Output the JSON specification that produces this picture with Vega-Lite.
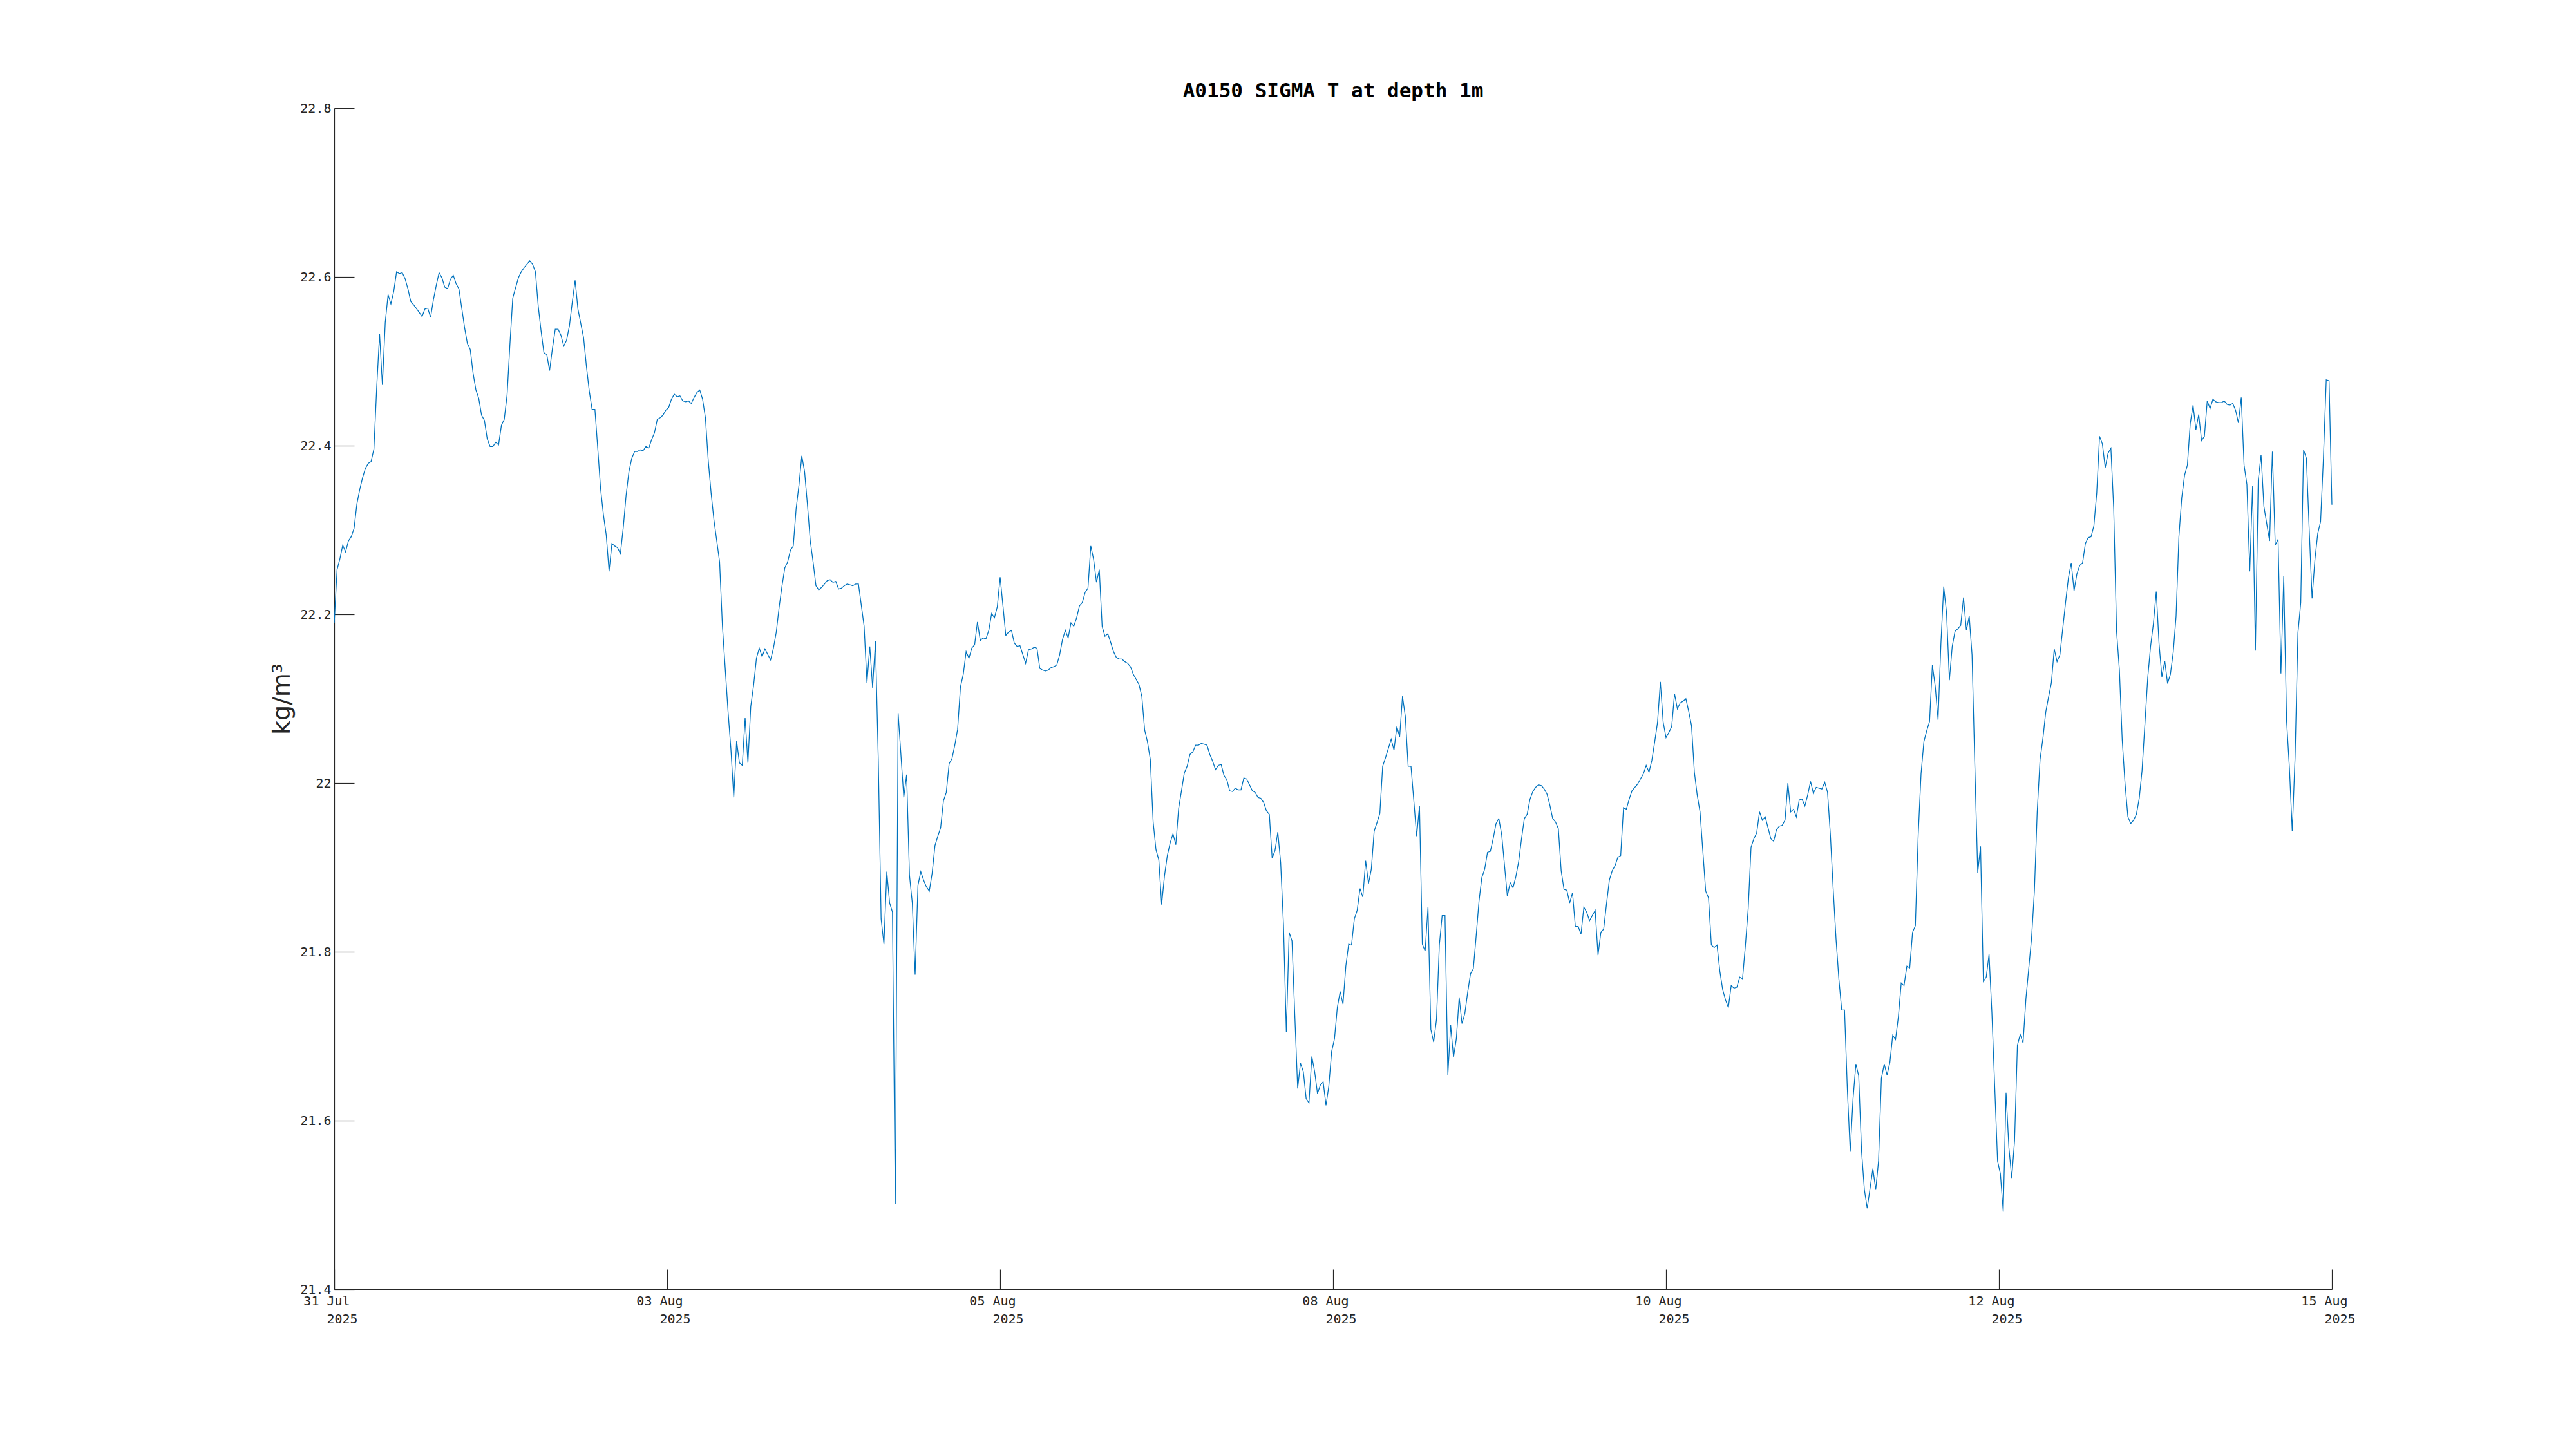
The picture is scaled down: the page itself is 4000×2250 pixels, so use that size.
{
  "$schema": "https://vega.github.io/schema/vega-lite/v6.json",
  "width": 3102,
  "height": 1834,
  "autosize": {"type": "none"},
  "padding": {"left": 519, "top": 168, "right": 379, "bottom": 248},
  "background": "#ffffff",
  "config": {"view": {"stroke": null}},
  "title": {
    "text": "A0150 SIGMA T at depth 1m",
    "font": "DejaVu Sans Mono",
    "fontSize": 31,
    "fontWeight": "bold",
    "color": "#000000",
    "anchor": "middle",
    "frame": "group",
    "baseline": "alphabetic",
    "offset": -24
  },
  "data": {
    "values": [
{"time":"2025-07-31T16:30Z","sigma":22.19},
{"time":"2025-07-31T17:00Z","sigma":22.253},
{"time":"2025-07-31T17:30Z","sigma":22.266},
{"time":"2025-07-31T18:00Z","sigma":22.282},
{"time":"2025-07-31T18:30Z","sigma":22.274},
{"time":"2025-07-31T19:00Z","sigma":22.287},
{"time":"2025-07-31T19:30Z","sigma":22.292},
{"time":"2025-07-31T20:00Z","sigma":22.302},
{"time":"2025-07-31T20:30Z","sigma":22.331},
{"time":"2025-07-31T21:00Z","sigma":22.348},
{"time":"2025-07-31T21:30Z","sigma":22.362},
{"time":"2025-07-31T22:00Z","sigma":22.373},
{"time":"2025-07-31T22:30Z","sigma":22.379},
{"time":"2025-07-31T23:00Z","sigma":22.381},
{"time":"2025-07-31T23:30Z","sigma":22.396},
{"time":"2025-08-01T00:00Z","sigma":22.470},
{"time":"2025-08-01T00:30Z","sigma":22.532},
{"time":"2025-08-01T01:00Z","sigma":22.472},
{"time":"2025-08-01T01:30Z","sigma":22.546},
{"time":"2025-08-01T02:00Z","sigma":22.579},
{"time":"2025-08-01T02:30Z","sigma":22.568},
{"time":"2025-08-01T03:00Z","sigma":22.583},
{"time":"2025-08-01T03:30Z","sigma":22.606},
{"time":"2025-08-01T04:00Z","sigma":22.604},
{"time":"2025-08-01T04:30Z","sigma":22.605},
{"time":"2025-08-01T05:00Z","sigma":22.598},
{"time":"2025-08-01T05:30Z","sigma":22.586},
{"time":"2025-08-01T06:00Z","sigma":22.571},
{"time":"2025-08-01T06:30Z","sigma":22.567},
{"time":"2025-08-01T07:30Z","sigma":22.558},
{"time":"2025-08-01T08:00Z","sigma":22.553},
{"time":"2025-08-01T08:30Z","sigma":22.562},
{"time":"2025-08-01T09:00Z","sigma":22.563},
{"time":"2025-08-01T09:30Z","sigma":22.552},
{"time":"2025-08-01T10:00Z","sigma":22.573},
{"time":"2025-08-01T10:30Z","sigma":22.590},
{"time":"2025-08-01T11:00Z","sigma":22.605},
{"time":"2025-08-01T11:30Z","sigma":22.599},
{"time":"2025-08-01T12:00Z","sigma":22.588},
{"time":"2025-08-01T12:30Z","sigma":22.586},
{"time":"2025-08-01T13:00Z","sigma":22.597},
{"time":"2025-08-01T13:30Z","sigma":22.602},
{"time":"2025-08-01T14:00Z","sigma":22.592},
{"time":"2025-08-01T14:30Z","sigma":22.586},
{"time":"2025-08-01T15:00Z","sigma":22.563},
{"time":"2025-08-01T15:30Z","sigma":22.540},
{"time":"2025-08-01T16:00Z","sigma":22.521},
{"time":"2025-08-01T16:30Z","sigma":22.514},
{"time":"2025-08-01T17:00Z","sigma":22.486},
{"time":"2025-08-01T17:30Z","sigma":22.466},
{"time":"2025-08-01T18:00Z","sigma":22.456},
{"time":"2025-08-01T18:30Z","sigma":22.436},
{"time":"2025-08-01T19:00Z","sigma":22.430},
{"time":"2025-08-01T19:30Z","sigma":22.408},
{"time":"2025-08-01T20:00Z","sigma":22.399},
{"time":"2025-08-01T20:30Z","sigma":22.399},
{"time":"2025-08-01T21:00Z","sigma":22.404},
{"time":"2025-08-01T21:30Z","sigma":22.401},
{"time":"2025-08-01T22:00Z","sigma":22.424},
{"time":"2025-08-01T22:30Z","sigma":22.431},
{"time":"2025-08-01T23:00Z","sigma":22.460},
{"time":"2025-08-01T23:30Z","sigma":22.520},
{"time":"2025-08-02T00:00Z","sigma":22.575},
{"time":"2025-08-02T00:30Z","sigma":22.587},
{"time":"2025-08-02T01:00Z","sigma":22.599},
{"time":"2025-08-02T01:30Z","sigma":22.606},
{"time":"2025-08-02T02:00Z","sigma":22.611},
{"time":"2025-08-02T02:30Z","sigma":22.615},
{"time":"2025-08-02T03:00Z","sigma":22.619},
{"time":"2025-08-02T03:30Z","sigma":22.615},
{"time":"2025-08-02T04:00Z","sigma":22.606},
{"time":"2025-08-02T04:30Z","sigma":22.565},
{"time":"2025-08-02T05:00Z","sigma":22.536},
{"time":"2025-08-02T05:30Z","sigma":22.510},
{"time":"2025-08-02T06:00Z","sigma":22.508},
{"time":"2025-08-02T06:30Z","sigma":22.489},
{"time":"2025-08-02T07:00Z","sigma":22.515},
{"time":"2025-08-02T07:30Z","sigma":22.538},
{"time":"2025-08-02T08:00Z","sigma":22.538},
{"time":"2025-08-02T08:30Z","sigma":22.531},
{"time":"2025-08-02T09:00Z","sigma":22.518},
{"time":"2025-08-02T09:30Z","sigma":22.525},
{"time":"2025-08-02T10:00Z","sigma":22.542},
{"time":"2025-08-02T10:30Z","sigma":22.570},
{"time":"2025-08-02T11:00Z","sigma":22.596},
{"time":"2025-08-02T11:30Z","sigma":22.562},
{"time":"2025-08-02T12:30Z","sigma":22.528},
{"time":"2025-08-02T13:00Z","sigma":22.494},
{"time":"2025-08-02T13:30Z","sigma":22.465},
{"time":"2025-08-02T14:00Z","sigma":22.443},
{"time":"2025-08-02T14:30Z","sigma":22.443},
{"time":"2025-08-02T15:00Z","sigma":22.397},
{"time":"2025-08-02T15:30Z","sigma":22.349},
{"time":"2025-08-02T16:00Z","sigma":22.318},
{"time":"2025-08-02T16:30Z","sigma":22.294},
{"time":"2025-08-02T17:00Z","sigma":22.251},
{"time":"2025-08-02T17:30Z","sigma":22.284},
{"time":"2025-08-02T18:00Z","sigma":22.281},
{"time":"2025-08-02T18:30Z","sigma":22.279},
{"time":"2025-08-02T19:00Z","sigma":22.272},
{"time":"2025-08-02T19:30Z","sigma":22.303},
{"time":"2025-08-02T20:00Z","sigma":22.341},
{"time":"2025-08-02T20:30Z","sigma":22.369},
{"time":"2025-08-02T21:00Z","sigma":22.385},
{"time":"2025-08-02T21:30Z","sigma":22.393},
{"time":"2025-08-02T22:00Z","sigma":22.393},
{"time":"2025-08-02T22:30Z","sigma":22.395},
{"time":"2025-08-02T23:00Z","sigma":22.394},
{"time":"2025-08-02T23:30Z","sigma":22.399},
{"time":"2025-08-03T00:00Z","sigma":22.397},
{"time":"2025-08-03T00:30Z","sigma":22.407},
{"time":"2025-08-03T01:00Z","sigma":22.415},
{"time":"2025-08-03T01:30Z","sigma":22.431},
{"time":"2025-08-03T02:00Z","sigma":22.433},
{"time":"2025-08-03T02:30Z","sigma":22.436},
{"time":"2025-08-03T03:00Z","sigma":22.442},
{"time":"2025-08-03T03:30Z","sigma":22.445},
{"time":"2025-08-03T04:00Z","sigma":22.455},
{"time":"2025-08-03T04:30Z","sigma":22.461},
{"time":"2025-08-03T05:00Z","sigma":22.458},
{"time":"2025-08-03T05:30Z","sigma":22.459},
{"time":"2025-08-03T06:00Z","sigma":22.453},
{"time":"2025-08-03T06:30Z","sigma":22.452},
{"time":"2025-08-03T07:00Z","sigma":22.453},
{"time":"2025-08-03T07:30Z","sigma":22.450},
{"time":"2025-08-03T08:00Z","sigma":22.457},
{"time":"2025-08-03T08:30Z","sigma":22.463},
{"time":"2025-08-03T09:00Z","sigma":22.466},
{"time":"2025-08-03T09:30Z","sigma":22.455},
{"time":"2025-08-03T10:00Z","sigma":22.433},
{"time":"2025-08-03T10:30Z","sigma":22.382},
{"time":"2025-08-03T11:00Z","sigma":22.344},
{"time":"2025-08-03T11:30Z","sigma":22.312},
{"time":"2025-08-03T12:00Z","sigma":22.287},
{"time":"2025-08-03T12:30Z","sigma":22.262},
{"time":"2025-08-03T13:00Z","sigma":22.186},
{"time":"2025-08-03T13:30Z","sigma":22.135},
{"time":"2025-08-03T14:00Z","sigma":22.084},
{"time":"2025-08-03T14:30Z","sigma":22.040},
{"time":"2025-08-03T15:00Z","sigma":21.983},
{"time":"2025-08-03T15:30Z","sigma":22.050},
{"time":"2025-08-03T16:00Z","sigma":22.024},
{"time":"2025-08-03T16:30Z","sigma":22.021},
{"time":"2025-08-03T17:00Z","sigma":22.077},
{"time":"2025-08-03T17:30Z","sigma":22.024},
{"time":"2025-08-03T18:00Z","sigma":22.091},
{"time":"2025-08-03T18:30Z","sigma":22.116},
{"time":"2025-08-03T19:00Z","sigma":22.148},
{"time":"2025-08-03T19:30Z","sigma":22.160},
{"time":"2025-08-03T20:00Z","sigma":22.150},
{"time":"2025-08-03T20:30Z","sigma":22.159},
{"time":"2025-08-03T21:30Z","sigma":22.146},
{"time":"2025-08-03T22:00Z","sigma":22.160},
{"time":"2025-08-03T22:30Z","sigma":22.179},
{"time":"2025-08-03T23:00Z","sigma":22.208},
{"time":"2025-08-03T23:30Z","sigma":22.233},
{"time":"2025-08-04T00:00Z","sigma":22.255},
{"time":"2025-08-04T00:30Z","sigma":22.262},
{"time":"2025-08-04T01:00Z","sigma":22.276},
{"time":"2025-08-04T01:30Z","sigma":22.281},
{"time":"2025-08-04T02:00Z","sigma":22.325},
{"time":"2025-08-04T02:30Z","sigma":22.353},
{"time":"2025-08-04T03:00Z","sigma":22.388},
{"time":"2025-08-04T03:30Z","sigma":22.369},
{"time":"2025-08-04T04:00Z","sigma":22.330},
{"time":"2025-08-04T04:30Z","sigma":22.287},
{"time":"2025-08-04T05:00Z","sigma":22.262},
{"time":"2025-08-04T05:30Z","sigma":22.234},
{"time":"2025-08-04T06:00Z","sigma":22.229},
{"time":"2025-08-04T06:30Z","sigma":22.232},
{"time":"2025-08-04T07:00Z","sigma":22.236},
{"time":"2025-08-04T07:30Z","sigma":22.240},
{"time":"2025-08-04T08:00Z","sigma":22.241},
{"time":"2025-08-04T08:30Z","sigma":22.238},
{"time":"2025-08-04T09:00Z","sigma":22.239},
{"time":"2025-08-04T09:30Z","sigma":22.230},
{"time":"2025-08-04T10:00Z","sigma":22.231},
{"time":"2025-08-04T10:30Z","sigma":22.234},
{"time":"2025-08-04T11:00Z","sigma":22.236},
{"time":"2025-08-04T11:30Z","sigma":22.235},
{"time":"2025-08-04T12:00Z","sigma":22.234},
{"time":"2025-08-04T12:30Z","sigma":22.236},
{"time":"2025-08-04T13:00Z","sigma":22.236},
{"time":"2025-08-04T13:30Z","sigma":22.211},
{"time":"2025-08-04T14:00Z","sigma":22.186},
{"time":"2025-08-04T14:30Z","sigma":22.119},
{"time":"2025-08-04T15:00Z","sigma":22.162},
{"time":"2025-08-04T15:30Z","sigma":22.113},
{"time":"2025-08-04T16:00Z","sigma":22.168},
{"time":"2025-08-04T16:30Z","sigma":22.027},
{"time":"2025-08-04T17:00Z","sigma":21.839},
{"time":"2025-08-04T17:30Z","sigma":21.809},
{"time":"2025-08-04T18:00Z","sigma":21.895},
{"time":"2025-08-04T18:30Z","sigma":21.858},
{"time":"2025-08-04T19:00Z","sigma":21.847},
{"time":"2025-08-04T19:30Z","sigma":21.501},
{"time":"2025-08-04T20:00Z","sigma":22.083},
{"time":"2025-08-04T21:00Z","sigma":21.983},
{"time":"2025-08-04T21:30Z","sigma":22.010},
{"time":"2025-08-04T22:00Z","sigma":21.891},
{"time":"2025-08-04T22:30Z","sigma":21.858},
{"time":"2025-08-04T23:00Z","sigma":21.773},
{"time":"2025-08-04T23:30Z","sigma":21.879},
{"time":"2025-08-05T00:00Z","sigma":21.895},
{"time":"2025-08-05T00:30Z","sigma":21.885},
{"time":"2025-08-05T01:00Z","sigma":21.877},
{"time":"2025-08-05T01:30Z","sigma":21.872},
{"time":"2025-08-05T02:00Z","sigma":21.893},
{"time":"2025-08-05T02:30Z","sigma":21.926},
{"time":"2025-08-05T03:00Z","sigma":21.937},
{"time":"2025-08-05T03:30Z","sigma":21.947},
{"time":"2025-08-05T04:00Z","sigma":21.979},
{"time":"2025-08-05T04:30Z","sigma":21.989},
{"time":"2025-08-05T05:00Z","sigma":22.023},
{"time":"2025-08-05T05:30Z","sigma":22.029},
{"time":"2025-08-05T06:00Z","sigma":22.045},
{"time":"2025-08-05T06:30Z","sigma":22.064},
{"time":"2025-08-05T07:00Z","sigma":22.114},
{"time":"2025-08-05T07:30Z","sigma":22.129},
{"time":"2025-08-05T08:00Z","sigma":22.156},
{"time":"2025-08-05T08:30Z","sigma":22.148},
{"time":"2025-08-05T09:00Z","sigma":22.160},
{"time":"2025-08-05T09:30Z","sigma":22.164},
{"time":"2025-08-05T10:00Z","sigma":22.191},
{"time":"2025-08-05T10:30Z","sigma":22.169},
{"time":"2025-08-05T11:00Z","sigma":22.172},
{"time":"2025-08-05T11:30Z","sigma":22.171},
{"time":"2025-08-05T12:00Z","sigma":22.181},
{"time":"2025-08-05T12:30Z","sigma":22.201},
{"time":"2025-08-05T13:00Z","sigma":22.196},
{"time":"2025-08-05T13:30Z","sigma":22.209},
{"time":"2025-08-05T14:00Z","sigma":22.244},
{"time":"2025-08-05T14:30Z","sigma":22.210},
{"time":"2025-08-05T15:00Z","sigma":22.175},
{"time":"2025-08-05T15:30Z","sigma":22.179},
{"time":"2025-08-05T16:00Z","sigma":22.181},
{"time":"2025-08-05T16:30Z","sigma":22.166},
{"time":"2025-08-05T17:00Z","sigma":22.162},
{"time":"2025-08-05T17:30Z","sigma":22.163},
{"time":"2025-08-05T18:30Z","sigma":22.142},
{"time":"2025-08-05T19:00Z","sigma":22.158},
{"time":"2025-08-05T19:30Z","sigma":22.159},
{"time":"2025-08-05T20:00Z","sigma":22.161},
{"time":"2025-08-05T20:30Z","sigma":22.160},
{"time":"2025-08-05T21:00Z","sigma":22.136},
{"time":"2025-08-05T21:30Z","sigma":22.134},
{"time":"2025-08-05T22:00Z","sigma":22.133},
{"time":"2025-08-05T22:30Z","sigma":22.134},
{"time":"2025-08-05T23:00Z","sigma":22.137},
{"time":"2025-08-05T23:30Z","sigma":22.138},
{"time":"2025-08-06T00:00Z","sigma":22.140},
{"time":"2025-08-06T00:30Z","sigma":22.152},
{"time":"2025-08-06T01:00Z","sigma":22.170},
{"time":"2025-08-06T01:30Z","sigma":22.181},
{"time":"2025-08-06T02:00Z","sigma":22.172},
{"time":"2025-08-06T02:30Z","sigma":22.190},
{"time":"2025-08-06T03:00Z","sigma":22.186},
{"time":"2025-08-06T03:30Z","sigma":22.196},
{"time":"2025-08-06T04:00Z","sigma":22.210},
{"time":"2025-08-06T04:30Z","sigma":22.214},
{"time":"2025-08-06T05:00Z","sigma":22.226},
{"time":"2025-08-06T05:30Z","sigma":22.231},
{"time":"2025-08-06T06:00Z","sigma":22.281},
{"time":"2025-08-06T06:30Z","sigma":22.265},
{"time":"2025-08-06T07:00Z","sigma":22.238},
{"time":"2025-08-06T07:30Z","sigma":22.253},
{"time":"2025-08-06T08:00Z","sigma":22.186},
{"time":"2025-08-06T08:30Z","sigma":22.174},
{"time":"2025-08-06T09:00Z","sigma":22.177},
{"time":"2025-08-06T09:30Z","sigma":22.167},
{"time":"2025-08-06T10:00Z","sigma":22.156},
{"time":"2025-08-06T10:30Z","sigma":22.149},
{"time":"2025-08-06T11:00Z","sigma":22.147},
{"time":"2025-08-06T11:30Z","sigma":22.147},
{"time":"2025-08-06T12:00Z","sigma":22.144},
{"time":"2025-08-06T12:30Z","sigma":22.142},
{"time":"2025-08-06T13:00Z","sigma":22.138},
{"time":"2025-08-06T13:30Z","sigma":22.129},
{"time":"2025-08-06T14:30Z","sigma":22.117},
{"time":"2025-08-06T15:00Z","sigma":22.103},
{"time":"2025-08-06T15:30Z","sigma":22.063},
{"time":"2025-08-06T16:00Z","sigma":22.049},
{"time":"2025-08-06T16:30Z","sigma":22.028},
{"time":"2025-08-06T17:00Z","sigma":21.954},
{"time":"2025-08-06T17:30Z","sigma":21.921},
{"time":"2025-08-06T18:00Z","sigma":21.909},
{"time":"2025-08-06T18:30Z","sigma":21.856},
{"time":"2025-08-06T19:00Z","sigma":21.890},
{"time":"2025-08-06T19:30Z","sigma":21.914},
{"time":"2025-08-06T20:00Z","sigma":21.929},
{"time":"2025-08-06T20:30Z","sigma":21.940},
{"time":"2025-08-06T21:00Z","sigma":21.927},
{"time":"2025-08-06T21:30Z","sigma":21.970},
{"time":"2025-08-06T22:00Z","sigma":21.991},
{"time":"2025-08-06T22:30Z","sigma":22.012},
{"time":"2025-08-06T23:00Z","sigma":22.020},
{"time":"2025-08-06T23:30Z","sigma":22.034},
{"time":"2025-08-07T00:00Z","sigma":22.037},
{"time":"2025-08-07T00:30Z","sigma":22.045},
{"time":"2025-08-07T01:00Z","sigma":22.045},
{"time":"2025-08-07T01:30Z","sigma":22.047},
{"time":"2025-08-07T02:00Z","sigma":22.046},
{"time":"2025-08-07T02:30Z","sigma":22.045},
{"time":"2025-08-07T03:00Z","sigma":22.034},
{"time":"2025-08-07T03:30Z","sigma":22.026},
{"time":"2025-08-07T04:00Z","sigma":22.016},
{"time":"2025-08-07T04:30Z","sigma":22.021},
{"time":"2025-08-07T05:00Z","sigma":22.022},
{"time":"2025-08-07T05:30Z","sigma":22.009},
{"time":"2025-08-07T06:00Z","sigma":22.004},
{"time":"2025-08-07T06:30Z","sigma":21.991},
{"time":"2025-08-07T07:00Z","sigma":21.990},
{"time":"2025-08-07T07:30Z","sigma":21.994},
{"time":"2025-08-07T08:00Z","sigma":21.992},
{"time":"2025-08-07T08:30Z","sigma":21.992},
{"time":"2025-08-07T09:00Z","sigma":22.006},
{"time":"2025-08-07T09:30Z","sigma":22.005},
{"time":"2025-08-07T10:30Z","sigma":21.991},
{"time":"2025-08-07T11:00Z","sigma":21.989},
{"time":"2025-08-07T11:30Z","sigma":21.983},
{"time":"2025-08-07T12:00Z","sigma":21.982},
{"time":"2025-08-07T12:30Z","sigma":21.977},
{"time":"2025-08-07T13:00Z","sigma":21.967},
{"time":"2025-08-07T13:30Z","sigma":21.963},
{"time":"2025-08-07T14:00Z","sigma":21.911},
{"time":"2025-08-07T14:30Z","sigma":21.920},
{"time":"2025-08-07T15:00Z","sigma":21.942},
{"time":"2025-08-07T15:30Z","sigma":21.906},
{"time":"2025-08-07T16:00Z","sigma":21.832},
{"time":"2025-08-07T16:30Z","sigma":21.705},
{"time":"2025-08-07T17:00Z","sigma":21.823},
{"time":"2025-08-07T17:30Z","sigma":21.813},
{"time":"2025-08-07T18:00Z","sigma":21.724},
{"time":"2025-08-07T18:30Z","sigma":21.638},
{"time":"2025-08-07T19:00Z","sigma":21.668},
{"time":"2025-08-07T19:30Z","sigma":21.658},
{"time":"2025-08-07T20:00Z","sigma":21.626},
{"time":"2025-08-07T20:30Z","sigma":21.621},
{"time":"2025-08-07T21:00Z","sigma":21.676},
{"time":"2025-08-07T21:30Z","sigma":21.658},
{"time":"2025-08-07T22:00Z","sigma":21.632},
{"time":"2025-08-07T22:30Z","sigma":21.642},
{"time":"2025-08-07T23:00Z","sigma":21.646},
{"time":"2025-08-07T23:30Z","sigma":21.618},
{"time":"2025-08-08T00:00Z","sigma":21.641},
{"time":"2025-08-08T00:30Z","sigma":21.682},
{"time":"2025-08-08T01:00Z","sigma":21.697},
{"time":"2025-08-08T01:30Z","sigma":21.734},
{"time":"2025-08-08T02:00Z","sigma":21.753},
{"time":"2025-08-08T02:30Z","sigma":21.738},
{"time":"2025-08-08T03:00Z","sigma":21.783},
{"time":"2025-08-08T03:30Z","sigma":21.809},
{"time":"2025-08-08T04:00Z","sigma":21.808},
{"time":"2025-08-08T04:30Z","sigma":21.839},
{"time":"2025-08-08T05:00Z","sigma":21.849},
{"time":"2025-08-08T05:30Z","sigma":21.875},
{"time":"2025-08-08T06:00Z","sigma":21.865},
{"time":"2025-08-08T06:30Z","sigma":21.908},
{"time":"2025-08-08T07:00Z","sigma":21.881},
{"time":"2025-08-08T07:30Z","sigma":21.898},
{"time":"2025-08-08T08:00Z","sigma":21.943},
{"time":"2025-08-08T08:30Z","sigma":21.953},
{"time":"2025-08-08T09:00Z","sigma":21.964},
{"time":"2025-08-08T09:30Z","sigma":22.020},
{"time":"2025-08-08T10:00Z","sigma":22.030},
{"time":"2025-08-08T11:00Z","sigma":22.052},
{"time":"2025-08-08T11:30Z","sigma":22.039},
{"time":"2025-08-08T12:00Z","sigma":22.067},
{"time":"2025-08-08T12:30Z","sigma":22.055},
{"time":"2025-08-08T13:00Z","sigma":22.103},
{"time":"2025-08-08T13:30Z","sigma":22.079},
{"time":"2025-08-08T14:00Z","sigma":22.020},
{"time":"2025-08-08T14:30Z","sigma":22.020},
{"time":"2025-08-08T15:00Z","sigma":21.979},
{"time":"2025-08-08T15:30Z","sigma":21.937},
{"time":"2025-08-08T16:00Z","sigma":21.973},
{"time":"2025-08-08T16:30Z","sigma":21.809},
{"time":"2025-08-08T17:00Z","sigma":21.801},
{"time":"2025-08-08T17:30Z","sigma":21.853},
{"time":"2025-08-08T18:00Z","sigma":21.708},
{"time":"2025-08-08T18:30Z","sigma":21.693},
{"time":"2025-08-08T19:00Z","sigma":21.720},
{"time":"2025-08-08T19:30Z","sigma":21.808},
{"time":"2025-08-08T20:00Z","sigma":21.843},
{"time":"2025-08-08T20:30Z","sigma":21.843},
{"time":"2025-08-08T21:00Z","sigma":21.654},
{"time":"2025-08-08T21:30Z","sigma":21.713},
{"time":"2025-08-08T22:00Z","sigma":21.675},
{"time":"2025-08-08T22:30Z","sigma":21.697},
{"time":"2025-08-08T23:00Z","sigma":21.746},
{"time":"2025-08-08T23:30Z","sigma":21.715},
{"time":"2025-08-09T00:00Z","sigma":21.727},
{"time":"2025-08-09T00:30Z","sigma":21.752},
{"time":"2025-08-09T01:00Z","sigma":21.774},
{"time":"2025-08-09T01:30Z","sigma":21.780},
{"time":"2025-08-09T02:00Z","sigma":21.819},
{"time":"2025-08-09T02:30Z","sigma":21.860},
{"time":"2025-08-09T03:00Z","sigma":21.888},
{"time":"2025-08-09T03:30Z","sigma":21.898},
{"time":"2025-08-09T04:00Z","sigma":21.918},
{"time":"2025-08-09T04:30Z","sigma":21.919},
{"time":"2025-08-09T05:00Z","sigma":21.934},
{"time":"2025-08-09T05:30Z","sigma":21.952},
{"time":"2025-08-09T06:00Z","sigma":21.958},
{"time":"2025-08-09T06:30Z","sigma":21.939},
{"time":"2025-08-09T07:30Z","sigma":21.866},
{"time":"2025-08-09T08:00Z","sigma":21.882},
{"time":"2025-08-09T08:30Z","sigma":21.876},
{"time":"2025-08-09T09:00Z","sigma":21.889},
{"time":"2025-08-09T09:30Z","sigma":21.907},
{"time":"2025-08-09T10:00Z","sigma":21.934},
{"time":"2025-08-09T10:30Z","sigma":21.958},
{"time":"2025-08-09T11:00Z","sigma":21.963},
{"time":"2025-08-09T11:30Z","sigma":21.981},
{"time":"2025-08-09T12:00Z","sigma":21.990},
{"time":"2025-08-09T12:30Z","sigma":21.995},
{"time":"2025-08-09T13:00Z","sigma":21.998},
{"time":"2025-08-09T13:30Z","sigma":21.997},
{"time":"2025-08-09T14:00Z","sigma":21.993},
{"time":"2025-08-09T14:30Z","sigma":21.987},
{"time":"2025-08-09T15:00Z","sigma":21.974},
{"time":"2025-08-09T15:30Z","sigma":21.958},
{"time":"2025-08-09T16:00Z","sigma":21.954},
{"time":"2025-08-09T16:30Z","sigma":21.946},
{"time":"2025-08-09T17:00Z","sigma":21.896},
{"time":"2025-08-09T17:30Z","sigma":21.874},
{"time":"2025-08-09T18:00Z","sigma":21.873},
{"time":"2025-08-09T18:30Z","sigma":21.858},
{"time":"2025-08-09T19:00Z","sigma":21.870},
{"time":"2025-08-09T19:30Z","sigma":21.830},
{"time":"2025-08-09T20:00Z","sigma":21.830},
{"time":"2025-08-09T20:30Z","sigma":21.821},
{"time":"2025-08-09T21:00Z","sigma":21.853},
{"time":"2025-08-09T21:30Z","sigma":21.847},
{"time":"2025-08-09T22:00Z","sigma":21.837},
{"time":"2025-08-09T22:30Z","sigma":21.843},
{"time":"2025-08-09T23:00Z","sigma":21.849},
{"time":"2025-08-09T23:30Z","sigma":21.796},
{"time":"2025-08-10T00:00Z","sigma":21.823},
{"time":"2025-08-10T00:30Z","sigma":21.827},
{"time":"2025-08-10T01:00Z","sigma":21.857},
{"time":"2025-08-10T01:30Z","sigma":21.885},
{"time":"2025-08-10T02:00Z","sigma":21.896},
{"time":"2025-08-10T02:30Z","sigma":21.902},
{"time":"2025-08-10T03:00Z","sigma":21.912},
{"time":"2025-08-10T03:30Z","sigma":21.914},
{"time":"2025-08-10T04:00Z","sigma":21.971},
{"time":"2025-08-10T04:30Z","sigma":21.969},
{"time":"2025-08-10T05:00Z","sigma":21.981},
{"time":"2025-08-10T05:30Z","sigma":21.991},
{"time":"2025-08-10T06:30Z","sigma":21.999},
{"time":"2025-08-10T07:00Z","sigma":22.005},
{"time":"2025-08-10T07:30Z","sigma":22.011},
{"time":"2025-08-10T08:00Z","sigma":22.021},
{"time":"2025-08-10T08:30Z","sigma":22.013},
{"time":"2025-08-10T09:00Z","sigma":22.027},
{"time":"2025-08-10T09:30Z","sigma":22.049},
{"time":"2025-08-10T10:00Z","sigma":22.072},
{"time":"2025-08-10T10:30Z","sigma":22.120},
{"time":"2025-08-10T11:00Z","sigma":22.072},
{"time":"2025-08-10T11:30Z","sigma":22.054},
{"time":"2025-08-10T12:00Z","sigma":22.060},
{"time":"2025-08-10T12:30Z","sigma":22.067},
{"time":"2025-08-10T13:00Z","sigma":22.106},
{"time":"2025-08-10T13:30Z","sigma":22.088},
{"time":"2025-08-10T14:00Z","sigma":22.095},
{"time":"2025-08-10T14:30Z","sigma":22.097},
{"time":"2025-08-10T15:00Z","sigma":22.100},
{"time":"2025-08-10T15:30Z","sigma":22.085},
{"time":"2025-08-10T16:00Z","sigma":22.068},
{"time":"2025-08-10T16:30Z","sigma":22.013},
{"time":"2025-08-10T17:00Z","sigma":21.986},
{"time":"2025-08-10T17:30Z","sigma":21.966},
{"time":"2025-08-10T18:00Z","sigma":21.919},
{"time":"2025-08-10T18:30Z","sigma":21.872},
{"time":"2025-08-10T19:00Z","sigma":21.864},
{"time":"2025-08-10T19:30Z","sigma":21.808},
{"time":"2025-08-10T20:00Z","sigma":21.805},
{"time":"2025-08-10T20:30Z","sigma":21.808},
{"time":"2025-08-10T21:00Z","sigma":21.777},
{"time":"2025-08-10T21:30Z","sigma":21.755},
{"time":"2025-08-10T22:00Z","sigma":21.743},
{"time":"2025-08-10T22:30Z","sigma":21.734},
{"time":"2025-08-10T23:00Z","sigma":21.760},
{"time":"2025-08-10T23:30Z","sigma":21.757},
{"time":"2025-08-11T00:00Z","sigma":21.758},
{"time":"2025-08-11T00:30Z","sigma":21.770},
{"time":"2025-08-11T01:00Z","sigma":21.768},
{"time":"2025-08-11T01:30Z","sigma":21.807},
{"time":"2025-08-11T02:00Z","sigma":21.851},
{"time":"2025-08-11T02:30Z","sigma":21.924},
{"time":"2025-08-11T03:00Z","sigma":21.934},
{"time":"2025-08-11T03:30Z","sigma":21.941},
{"time":"2025-08-11T04:00Z","sigma":21.966},
{"time":"2025-08-11T04:30Z","sigma":21.956},
{"time":"2025-08-11T05:00Z","sigma":21.960},
{"time":"2025-08-11T06:00Z","sigma":21.934},
{"time":"2025-08-11T06:30Z","sigma":21.931},
{"time":"2025-08-11T07:00Z","sigma":21.945},
{"time":"2025-08-11T07:30Z","sigma":21.949},
{"time":"2025-08-11T08:00Z","sigma":21.950},
{"time":"2025-08-11T08:30Z","sigma":21.956},
{"time":"2025-08-11T09:00Z","sigma":22.000},
{"time":"2025-08-11T09:30Z","sigma":21.966},
{"time":"2025-08-11T10:00Z","sigma":21.969},
{"time":"2025-08-11T10:30Z","sigma":21.960},
{"time":"2025-08-11T11:00Z","sigma":21.980},
{"time":"2025-08-11T11:30Z","sigma":21.981},
{"time":"2025-08-11T12:00Z","sigma":21.973},
{"time":"2025-08-11T12:30Z","sigma":21.986},
{"time":"2025-08-11T13:00Z","sigma":22.002},
{"time":"2025-08-11T13:30Z","sigma":21.988},
{"time":"2025-08-11T14:00Z","sigma":21.995},
{"time":"2025-08-11T14:30Z","sigma":21.994},
{"time":"2025-08-11T15:00Z","sigma":21.993},
{"time":"2025-08-11T15:30Z","sigma":22.001},
{"time":"2025-08-11T16:00Z","sigma":21.989},
{"time":"2025-08-11T16:30Z","sigma":21.939},
{"time":"2025-08-11T17:00Z","sigma":21.874},
{"time":"2025-08-11T17:30Z","sigma":21.815},
{"time":"2025-08-11T18:00Z","sigma":21.768},
{"time":"2025-08-11T18:30Z","sigma":21.731},
{"time":"2025-08-11T19:00Z","sigma":21.731},
{"time":"2025-08-11T19:30Z","sigma":21.636},
{"time":"2025-08-11T20:00Z","sigma":21.563},
{"time":"2025-08-11T20:30Z","sigma":21.626},
{"time":"2025-08-11T21:00Z","sigma":21.667},
{"time":"2025-08-11T21:30Z","sigma":21.653},
{"time":"2025-08-11T22:00Z","sigma":21.564},
{"time":"2025-08-11T22:30Z","sigma":21.518},
{"time":"2025-08-11T23:00Z","sigma":21.496},
{"time":"2025-08-12T00:00Z","sigma":21.543},
{"time":"2025-08-12T00:30Z","sigma":21.518},
{"time":"2025-08-12T01:00Z","sigma":21.552},
{"time":"2025-08-12T01:30Z","sigma":21.650},
{"time":"2025-08-12T02:00Z","sigma":21.667},
{"time":"2025-08-12T02:30Z","sigma":21.654},
{"time":"2025-08-12T03:00Z","sigma":21.669},
{"time":"2025-08-12T03:30Z","sigma":21.701},
{"time":"2025-08-12T04:00Z","sigma":21.696},
{"time":"2025-08-12T04:30Z","sigma":21.723},
{"time":"2025-08-12T05:00Z","sigma":21.763},
{"time":"2025-08-12T05:30Z","sigma":21.760},
{"time":"2025-08-12T06:00Z","sigma":21.783},
{"time":"2025-08-12T06:30Z","sigma":21.781},
{"time":"2025-08-12T07:00Z","sigma":21.823},
{"time":"2025-08-12T07:30Z","sigma":21.831},
{"time":"2025-08-12T08:00Z","sigma":21.939},
{"time":"2025-08-12T08:30Z","sigma":22.011},
{"time":"2025-08-12T09:00Z","sigma":22.049},
{"time":"2025-08-12T09:30Z","sigma":22.062},
{"time":"2025-08-12T10:00Z","sigma":22.073},
{"time":"2025-08-12T10:30Z","sigma":22.140},
{"time":"2025-08-12T11:00Z","sigma":22.115},
{"time":"2025-08-12T11:30Z","sigma":22.075},
{"time":"2025-08-12T12:00Z","sigma":22.165},
{"time":"2025-08-12T12:30Z","sigma":22.233},
{"time":"2025-08-12T13:00Z","sigma":22.202},
{"time":"2025-08-12T13:30Z","sigma":22.122},
{"time":"2025-08-12T14:00Z","sigma":22.162},
{"time":"2025-08-12T14:30Z","sigma":22.180},
{"time":"2025-08-12T15:00Z","sigma":22.183},
{"time":"2025-08-12T15:30Z","sigma":22.187},
{"time":"2025-08-12T16:00Z","sigma":22.220},
{"time":"2025-08-12T16:30Z","sigma":22.181},
{"time":"2025-08-12T17:00Z","sigma":22.198},
{"time":"2025-08-12T17:30Z","sigma":22.152},
{"time":"2025-08-12T18:00Z","sigma":22.018},
{"time":"2025-08-12T18:30Z","sigma":21.894},
{"time":"2025-08-12T19:00Z","sigma":21.925},
{"time":"2025-08-12T19:30Z","sigma":21.765},
{"time":"2025-08-12T20:00Z","sigma":21.770},
{"time":"2025-08-12T20:30Z","sigma":21.797},
{"time":"2025-08-12T21:00Z","sigma":21.728},
{"time":"2025-08-12T22:00Z","sigma":21.552},
{"time":"2025-08-12T22:30Z","sigma":21.537},
{"time":"2025-08-12T23:00Z","sigma":21.492},
{"time":"2025-08-12T23:30Z","sigma":21.633},
{"time":"2025-08-13T00:00Z","sigma":21.568},
{"time":"2025-08-13T00:30Z","sigma":21.532},
{"time":"2025-08-13T01:00Z","sigma":21.576},
{"time":"2025-08-13T01:30Z","sigma":21.689},
{"time":"2025-08-13T02:00Z","sigma":21.702},
{"time":"2025-08-13T02:30Z","sigma":21.692},
{"time":"2025-08-13T03:00Z","sigma":21.744},
{"time":"2025-08-13T03:30Z","sigma":21.780},
{"time":"2025-08-13T04:00Z","sigma":21.816},
{"time":"2025-08-13T04:30Z","sigma":21.872},
{"time":"2025-08-13T05:00Z","sigma":21.966},
{"time":"2025-08-13T05:30Z","sigma":22.028},
{"time":"2025-08-13T06:00Z","sigma":22.053},
{"time":"2025-08-13T06:30Z","sigma":22.084},
{"time":"2025-08-13T07:00Z","sigma":22.102},
{"time":"2025-08-13T07:30Z","sigma":22.119},
{"time":"2025-08-13T08:00Z","sigma":22.159},
{"time":"2025-08-13T08:30Z","sigma":22.144},
{"time":"2025-08-13T09:00Z","sigma":22.152},
{"time":"2025-08-13T09:30Z","sigma":22.183},
{"time":"2025-08-13T10:00Z","sigma":22.214},
{"time":"2025-08-13T10:30Z","sigma":22.243},
{"time":"2025-08-13T11:00Z","sigma":22.261},
{"time":"2025-08-13T11:30Z","sigma":22.228},
{"time":"2025-08-13T12:00Z","sigma":22.248},
{"time":"2025-08-13T12:30Z","sigma":22.258},
{"time":"2025-08-13T13:00Z","sigma":22.261},
{"time":"2025-08-13T13:30Z","sigma":22.284},
{"time":"2025-08-13T14:00Z","sigma":22.291},
{"time":"2025-08-13T14:30Z","sigma":22.292},
{"time":"2025-08-13T15:00Z","sigma":22.305},
{"time":"2025-08-13T15:30Z","sigma":22.344},
{"time":"2025-08-13T16:00Z","sigma":22.411},
{"time":"2025-08-13T16:30Z","sigma":22.402},
{"time":"2025-08-13T17:00Z","sigma":22.374},
{"time":"2025-08-13T17:30Z","sigma":22.391},
{"time":"2025-08-13T18:00Z","sigma":22.397},
{"time":"2025-08-13T18:30Z","sigma":22.325},
{"time":"2025-08-13T19:00Z","sigma":22.180},
{"time":"2025-08-13T19:30Z","sigma":22.134},
{"time":"2025-08-13T20:00Z","sigma":22.051},
{"time":"2025-08-13T20:30Z","sigma":21.999},
{"time":"2025-08-13T21:00Z","sigma":21.960},
{"time":"2025-08-13T21:30Z","sigma":21.952},
{"time":"2025-08-13T22:00Z","sigma":21.956},
{"time":"2025-08-13T22:30Z","sigma":21.963},
{"time":"2025-08-13T23:00Z","sigma":21.982},
{"time":"2025-08-13T23:30Z","sigma":22.015},
{"time":"2025-08-14T00:30Z","sigma":22.125},
{"time":"2025-08-14T01:00Z","sigma":22.162},
{"time":"2025-08-14T01:30Z","sigma":22.189},
{"time":"2025-08-14T02:00Z","sigma":22.227},
{"time":"2025-08-14T02:30Z","sigma":22.165},
{"time":"2025-08-14T03:00Z","sigma":22.126},
{"time":"2025-08-14T03:30Z","sigma":22.145},
{"time":"2025-08-14T04:00Z","sigma":22.118},
{"time":"2025-08-14T04:30Z","sigma":22.129},
{"time":"2025-08-14T05:00Z","sigma":22.155},
{"time":"2025-08-14T05:30Z","sigma":22.198},
{"time":"2025-08-14T06:00Z","sigma":22.292},
{"time":"2025-08-14T06:30Z","sigma":22.338},
{"time":"2025-08-14T07:00Z","sigma":22.365},
{"time":"2025-08-14T07:30Z","sigma":22.377},
{"time":"2025-08-14T08:00Z","sigma":22.426},
{"time":"2025-08-14T08:30Z","sigma":22.448},
{"time":"2025-08-14T09:00Z","sigma":22.419},
{"time":"2025-08-14T09:30Z","sigma":22.437},
{"time":"2025-08-14T10:00Z","sigma":22.406},
{"time":"2025-08-14T10:30Z","sigma":22.411},
{"time":"2025-08-14T11:00Z","sigma":22.453},
{"time":"2025-08-14T11:30Z","sigma":22.444},
{"time":"2025-08-14T12:00Z","sigma":22.455},
{"time":"2025-08-14T12:30Z","sigma":22.452},
{"time":"2025-08-14T13:00Z","sigma":22.451},
{"time":"2025-08-14T13:30Z","sigma":22.451},
{"time":"2025-08-14T14:00Z","sigma":22.453},
{"time":"2025-08-14T14:30Z","sigma":22.449},
{"time":"2025-08-14T15:00Z","sigma":22.448},
{"time":"2025-08-14T15:30Z","sigma":22.450},
{"time":"2025-08-14T16:00Z","sigma":22.442},
{"time":"2025-08-14T16:30Z","sigma":22.427},
{"time":"2025-08-14T17:00Z","sigma":22.457},
{"time":"2025-08-14T17:30Z","sigma":22.377},
{"time":"2025-08-14T18:00Z","sigma":22.354},
{"time":"2025-08-14T18:30Z","sigma":22.251},
{"time":"2025-08-14T19:00Z","sigma":22.352},
{"time":"2025-08-14T19:30Z","sigma":22.157},
{"time":"2025-08-14T20:00Z","sigma":22.359},
{"time":"2025-08-14T20:30Z","sigma":22.389},
{"time":"2025-08-14T21:00Z","sigma":22.328},
{"time":"2025-08-14T22:00Z","sigma":22.287},
{"time":"2025-08-14T22:30Z","sigma":22.393},
{"time":"2025-08-14T23:00Z","sigma":22.282},
{"time":"2025-08-14T23:30Z","sigma":22.289},
{"time":"2025-08-15T00:00Z","sigma":22.130},
{"time":"2025-08-15T00:30Z","sigma":22.245},
{"time":"2025-08-15T01:00Z","sigma":22.074},
{"time":"2025-08-15T01:30Z","sigma":22.018},
{"time":"2025-08-15T02:00Z","sigma":21.943},
{"time":"2025-08-15T02:30Z","sigma":22.031},
{"time":"2025-08-15T03:00Z","sigma":22.178},
{"time":"2025-08-15T03:30Z","sigma":22.214},
{"time":"2025-08-15T04:00Z","sigma":22.395},
{"time":"2025-08-15T04:30Z","sigma":22.385},
{"time":"2025-08-15T05:00Z","sigma":22.299},
{"time":"2025-08-15T05:30Z","sigma":22.219},
{"time":"2025-08-15T06:00Z","sigma":22.265},
{"time":"2025-08-15T06:30Z","sigma":22.296},
{"time":"2025-08-15T07:00Z","sigma":22.310},
{"time":"2025-08-15T07:30Z","sigma":22.385},
{"time":"2025-08-15T08:00Z","sigma":22.478},
{"time":"2025-08-15T08:30Z","sigma":22.477},
{"time":"2025-08-15T09:00Z","sigma":22.330}
    ]
  },
  "mark": {"type": "line", "color": "#0072BD", "strokeWidth": 1.3, "interpolate": "linear"},
  "encoding": {
    "x": {
      "field": "time",
      "type": "temporal",
      "scale": {
        "type": "utc",
        "domain": [
          {"year": 2025, "month": 7, "date": 31, "hours": 16, "minutes": 30, "utc": true},
          {"year": 2025, "month": 8, "date": 15, "hours": 9, "minutes": 0, "utc": true}
        ],
        "nice": false
      },
      "axis": {
        "title": null,
        "grid": false,
        "values": [
          {"year": 2025, "month": 7, "date": 31, "hours": 16, "minutes": 30, "utc": true},
          {"year": 2025, "month": 8, "date": 3, "hours": 3, "minutes": 15, "utc": true},
          {"year": 2025, "month": 8, "date": 5, "hours": 14, "minutes": 0, "utc": true},
          {"year": 2025, "month": 8, "date": 8, "hours": 0, "minutes": 45, "utc": true},
          {"year": 2025, "month": 8, "date": 10, "hours": 11, "minutes": 30, "utc": true},
          {"year": 2025, "month": 8, "date": 12, "hours": 22, "minutes": 15, "utc": true},
          {"year": 2025, "month": 8, "date": 15, "hours": 9, "minutes": 0, "utc": true}
        ],
        "labelExpr": "[utcFormat(datum.value, '%d %b') + '\u00a0\u00a0\u200b', '\u200b\u00a0\u00a02025']",
        "labelFont": "DejaVu Sans Mono",
        "labelFontSize": 20,
        "labelColor": "#262626",
        "labelLineHeight": 28,
        "labelBaseline": "top",
        "labelAlign": "center",
        "labelPadding": 39,
        "labelFlush": false,
        "labelOverlap": false,
        "labelBound": false,
        "tickSize": -31,
        "tickColor": "#262626",
        "tickWidth": 1.2,
        "domainColor": "#262626",
        "domainWidth": 1.2
      }
    },
    "y": {
      "field": "sigma",
      "type": "quantitative",
      "scale": {"domain": [21.4, 22.8], "nice": false, "zero": false},
      "axis": {
        "title": "kg/m³",
        "titleFont": "DejaVu Sans",
        "titleFontSize": 38,
        "titleFontWeight": "normal",
        "titleColor": "#262626",
        "titlePadding": 8,
        "grid": false,
        "values": [21.4, 21.6, 21.8, 22.0, 22.2, 22.4, 22.6, 22.8],
        "format": ".1~f",
        "labelFont": "DejaVu Sans Mono",
        "labelFontSize": 20,
        "labelColor": "#262626",
        "labelPadding": 36,
        "labelFlush": false,
        "labelOverlap": false,
        "labelBound": false,
        "tickSize": -31,
        "tickColor": "#262626",
        "tickWidth": 1.2,
        "domainColor": "#262626",
        "domainWidth": 1.2
      }
    }
  }
}
